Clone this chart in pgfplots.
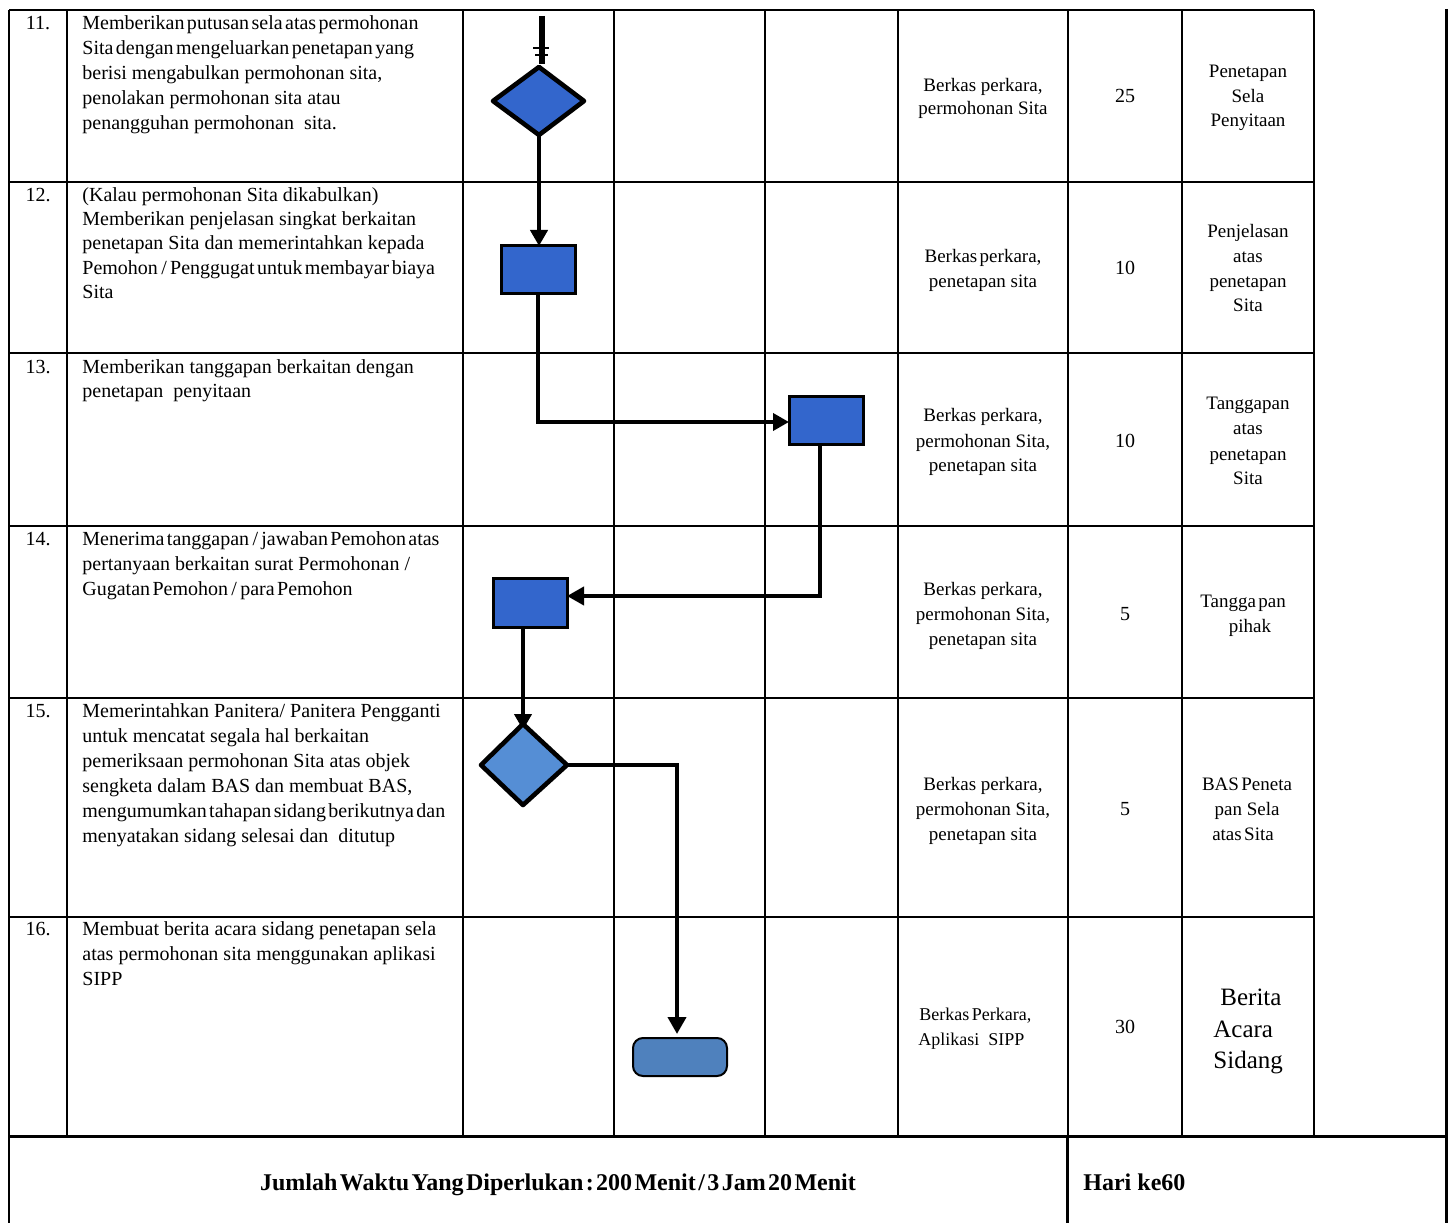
\documentclass[border=0pt]{standalone}
\usepackage{pgfplots}
\pgfplotsset{compat=1.18}
\usepackage{fontspec}
\setmainfont{Liberation Serif}
\usetikzlibrary{arrows.meta}
\definecolor{boxblue}{HTML}{3366CC}
\definecolor{diablue}{HTML}{558ED5}
\definecolor{termblue}{HTML}{4F81BD}
\newcommand{\s}{\hspace{1.2pt}}
\newcommand{\TL}[4][\fontsize{10}{12}\selectfont]{\node[anchor=base west,inner sep=0pt,font=#1] at (axis cs:#2,#3) {#4};}
\newcommand{\TC}[4][\fontsize{9.5}{12}\selectfont]{\node[anchor=base,inner sep=0pt,font=#1] at (axis cs:#2,#3) {#4};}
\begin{document}
\begin{tikzpicture}
\begin{axis}[
  scale only axis, width=728pt, height=611.5pt,
  xmin=0, xmax=1456, ymin=0, ymax=1223, y dir=reverse,
  hide axis, clip=false, no markers]
\path (axis cs:0,0) rectangle (axis cs:1456,1223);
% ---------- table grid ----------
\addplot[black, line width=1pt] coordinates {(9,10) (1314,10)};
\addplot[black, line width=1pt] coordinates {(9,182) (1314,182)};
\addplot[black, line width=1pt] coordinates {(9,353) (1314,353)};
\addplot[black, line width=1pt] coordinates {(9,526) (1314,526)};
\addplot[black, line width=1pt] coordinates {(9,698) (1314,698)};
\addplot[black, line width=1pt] coordinates {(9,917) (1314,917)};
\addplot[black, line width=1.5pt] coordinates {(9,1136) (1446,1136)};
\addplot[black, line width=1.2pt] coordinates {(9,10) (9,1223)};
\addplot[black, line width=1pt] coordinates {(67,10) (67,1136)};
\addplot[black, line width=1pt] coordinates {(463,10) (463,1136)};
\addplot[black, line width=1pt] coordinates {(614,10) (614,1136)};
\addplot[black, line width=1pt] coordinates {(765,10) (765,1136)};
\addplot[black, line width=1pt] coordinates {(898,10) (898,1136)};
\addplot[black, line width=1pt] coordinates {(1068,10) (1068,1136)};
\addplot[black, line width=1pt] coordinates {(1182,10) (1182,1136)};
\addplot[black, line width=1pt] coordinates {(1314,10) (1314,1136)};
\addplot[black, line width=1.5pt] coordinates {(1446,9) (1446,1223)};
\addplot[black, line width=1.5pt] coordinates {(1067,1136) (1067,1223)};
% ---------- flow lines ----------
\addplot[black, line width=3pt] coordinates {(542,16) (542,64)};
\addplot[black, line width=1.2pt] coordinates {(533,48) (549,48)};
\addplot[black, line width=1pt] coordinates {(535,55) (548,55)};
\addplot[black, line width=2.3pt, -{Triangle[length=8pt,width=8.5pt]}] coordinates {(539,135) (539,246)};
\addplot[black, line width=1.8pt, -{Triangle[length=8pt,width=8.5pt]}] coordinates {(538,294) (538,422) (789,422)};
\addplot[black, line width=2pt, -{Triangle[length=8.5pt,width=9pt]}] coordinates {(820,445) (820,596) (567,596)};
\addplot[black, line width=2.3pt, -{Triangle[length=8pt,width=8.5pt]}] coordinates {(523,627) (523,730)};
\addplot[black, line width=2pt, -{Triangle[length=8.5pt,width=9pt]}] coordinates {(567,765) (677,765) (677,1034)};
% ---------- shapes ----------
\addplot[fill=boxblue, draw=black, line width=2.3pt, line join=round] coordinates {(539,67) (584,101) (539,135) (493,101)} -- cycle;
\addplot[fill=boxblue, draw=black, line width=1.5pt] coordinates {(501,246) (575,246) (575,294) (501,294)} -- cycle;
\addplot[fill=boxblue, draw=black, line width=1.5pt] coordinates {(789,397) (863,397) (863,445) (789,445)} -- cycle;
\addplot[fill=boxblue, draw=black, line width=1.5pt] coordinates {(493,578) (567,578) (567,627) (493,627)} -- cycle;
\addplot[fill=diablue, draw=black, line width=2.3pt, line join=round] coordinates {(523,724) (567,765) (523,805) (481,765)} -- cycle;
\addplot[fill=termblue, draw=black, line width=1pt, rounded corners=5pt] coordinates {(633,1038) (727,1038) (727,1076) (633,1076)} -- cycle;
% ---------- numbers ----------
\TC[\fontsize{10}{12}\selectfont]{38}{30}{11.}
\TC[\fontsize{10}{12}\selectfont]{38}{202}{12.}
\TC[\fontsize{10}{12}\selectfont]{38}{374}{13.}
\TC[\fontsize{10}{12}\selectfont]{38}{545}{14.}
\TC[\fontsize{10}{12}\selectfont]{38}{717}{15.}
\TC[\fontsize{10}{12}\selectfont]{38}{935}{16.}
% ---------- activity text ----------
\TL{82}{30}{Memberikan\s putusan\s sela\s atas\s permohonan}
\TL{82}{55}{Sita\s dengan\s mengeluarkan\s penetapan\s yang}
\TL{82}{80}{berisi mengabulkan permohonan sita,}
\TL{82}{105}{penolakan permohonan sita atau}
\TL{82}{130}{penangguhan permohonan \ sita.}
\TL{82}{202}{(Kalau permohonan Sita dikabulkan)}
\TL{82}{226}{Memberikan penjelasan singkat berkaitan}
\TL{82}{250}{penetapan Sita dan memerintahkan kepada}
\TL{82}{275}{Pemohon\,/\,Penggugat\s untuk\s membayar\s biaya}
\TL{82}{299}{Sita}
\TL{82}{374}{Memberikan tanggapan berkaitan dengan}
\TL{82}{398}{penetapan \ penyitaan}
\TL{82}{545}{Menerima\s tanggapan\,/\,jawaban\s Pemohon\s atas}
\TL{82}{570}{pertanyaan berkaitan surat Permohonan /}
\TL{82}{595}{Gugatan\s Pemohon\,/\,para\s Pemohon}
\TL{82}{717}{Memerintahkan Panitera/ Panitera Pengganti}
\TL{82}{742}{untuk mencatat segala hal berkaitan}
\TL{82}{767}{pemeriksaan permohonan Sita atas objek}
\TL{82}{792}{sengketa dalam BAS dan membuat BAS,}
\TL{82}{817}{mengumumkan\s tahapan\s sidang\s berikutnya\s dan}
\TL{82}{842}{menyatakan sidang selesai dan \ ditutup}
\TL{82}{935}{Membuat berita acara sidang penetapan sela}
\TL{82}{960}{atas permohonan sita menggunakan aplikasi}
\TL{82}{985}{SIPP}
% ---------- berkas column ----------
\TC{983}{92}{Berkas perkara,}
\TC{983}{115}{permohonan Sita}
\TC{983}{263}{Berkas\s perkara,}
\TC{983}{288}{penetapan sita}
\TC{983}{422}{Berkas perkara,}
\TC{983}{447}{permohonan Sita,}
\TC{983}{472}{penetapan sita}
\TC{983}{595}{Berkas perkara,}
\TC{983}{620}{permohonan Sita,}
\TC{983}{645}{penetapan sita}
\TC{983}{790}{Berkas perkara,}
\TC{983}{815}{permohonan Sita,}
\TC{983}{840}{penetapan sita}
\TL[\fontsize{9}{11}\selectfont]{919}{1020}{Berkas\s Perkara,}
\TL[\fontsize{9}{11}\selectfont]{918}{1045}{Aplikasi \ SIPP}
% ---------- minutes ----------
\TC[\fontsize{10}{12}\selectfont]{1125}{103}{25}
\TC[\fontsize{10}{12}\selectfont]{1125}{275}{10}
\TC[\fontsize{10}{12}\selectfont]{1125}{448}{10}
\TC[\fontsize{10}{12}\selectfont]{1125}{620}{5}
\TC[\fontsize{10}{12}\selectfont]{1125}{815}{5}
\TC[\fontsize{10}{12}\selectfont]{1125}{1033}{30}
% ---------- output column ----------
\TC{1248}{78}{Penetapan}
\TC{1248}{103}{Sela}
\TC{1248}{127}{Penyitaan}
\TC{1248}{238}{Penjelasan}
\TC{1248}{263}{atas}
\TC{1248}{288}{penetapan}
\TC{1248}{312}{Sita}
\TC{1248}{410}{Tanggapan}
\TC{1248}{435}{atas}
\TC{1248}{460}{penetapan}
\TC{1248}{484}{Sita}
\TC{1243}{607}{Tangga\s pan}
\TC{1250}{632}{pihak}
\TC{1247}{790}{BAS\s Peneta}
\TC{1247}{815}{pan Sela}
\TC{1243}{840}{atas\s Sita}
\TL[\fontsize{12.5}{15}\selectfont]{1220}{1005}{Berita}
\TL[\fontsize{12.5}{15}\selectfont]{1213}{1037}{Acara}
\TL[\fontsize{12.5}{15}\selectfont]{1213}{1068}{Sidang}
% ---------- footer ----------
\TC[\bfseries\fontsize{12}{14}\selectfont]{558}{1190}{Jumlah\s Waktu\s Yang\s Diperlukan\s :\s 200\s Menit\s /\s 3\s Jam\s 20\s Menit}
\TL[\bfseries\fontsize{12}{14}\selectfont]{1083}{1190}{Hari ke60}
\end{axis}
\end{tikzpicture}
\end{document}
